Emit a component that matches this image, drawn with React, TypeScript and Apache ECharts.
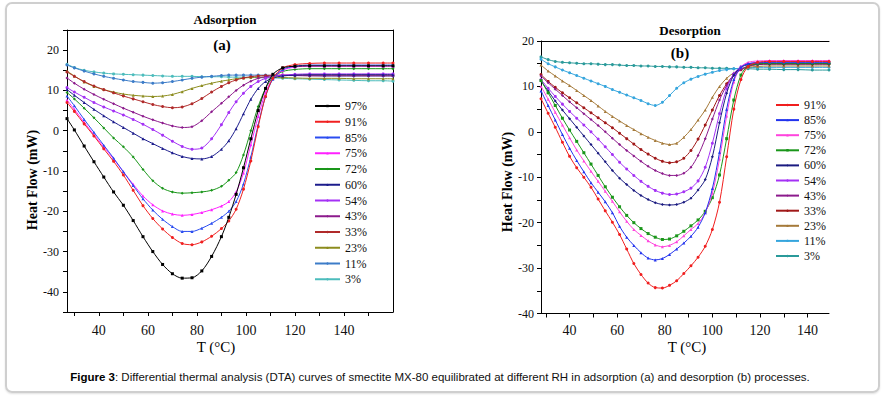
import React, { useEffect, useRef } from "react";
import * as echarts from "echarts";

// ---------- Adsorption (a) ----------
const T_ADS = [27, 30, 34, 38, 42, 46, 50, 54, 58, 62, 66, 70, 74, 78, 82, 86, 90, 93, 96, 99, 102, 105, 108, 111, 115, 120, 126, 132, 138, 144, 150, 156, 160];
const ADS_LABELS = ["97%", "91%", "85%", "75%", "72%", "60%", "54%", "43%", "33%", "23%", "11%", "3%"];
const ads97 = [3.0, 0.2, -3.8, -7.7, -11.5, -15.2, -18.5, -22.3, -26.3, -30.0, -33.2, -35.5, -36.6, -36.5, -34.8, -31.2, -26.3, -21.5, -15.8, -9.2, -2.0, 5.0, 10.5, 14.0, 15.6, 16.0, 16.1, 16.1, 16.1, 16.1, 16.1, 16.1, 16.1];
const ads91 = [7.0, 4.8, 1.7, -1.3, -4.5, -7.6, -11.0, -14.8, -18.6, -21.8, -24.4, -26.5, -28.0, -28.3, -27.6, -26.2, -24.3, -22.4, -19.5, -14.5, -7.5, 1.0, 8.5, 13.0, 15.6, 16.4, 16.7, 16.8, 16.8, 16.8, 16.8, 16.8, 16.8];
const ads85 = [8.6, 6.2, 2.8, -0.4, -3.6, -6.8, -10.2, -13.6, -16.9, -19.7, -22.0, -23.8, -25.0, -25.0, -24.2, -23.0, -21.5, -20.0, -17.6, -13.2, -6.5, 1.5, 8.5, 12.8, 15.2, 16.0, 16.3, 16.3, 16.3, 16.3, 16.3, 16.3, 16.3];
const ads75 = [7.6, 5.3, 2.1, -1.0, -4.0, -7.0, -10.2, -13.3, -16.2, -18.4, -19.9, -20.7, -21.0, -20.8, -20.3, -19.6, -18.7, -17.6, -15.2, -10.5, -3.5, 3.5, 9.5, 13.0, 15.0, 15.8, 16.0, 16.0, 16.0, 16.0, 16.0, 16.0, 16.0];
const ads72 = [9.5, 7.9, 5.6, 3.2, 0.7, -1.8, -4.0, -6.5, -9.6, -12.4, -14.3, -15.2, -15.5, -15.4, -15.2, -14.8, -13.8, -12.3, -10.4, -6.0, 0.0, 6.0, 10.5, 13.2, 14.7, 15.2, 15.4, 15.4, 15.4, 15.4, 15.4, 15.4, 15.4];
const ads60 = [10.2, 8.8, 7.0, 5.3, 3.7, 2.2, 0.8, -0.6, -2.0, -3.2, -4.4, -5.5, -6.4, -6.9, -7.0, -6.4, -4.6, -2.5, 0.5, 4.2, 7.8, 10.5, 12.2, 13.1, 13.6, 13.8, 13.9, 13.9, 13.9, 13.9, 13.9, 13.9, 13.9];
const ads54 = [10.7, 9.6, 8.3, 7.0, 5.9, 4.9, 3.9, 2.8, 1.6, 0.3, -1.1, -2.6, -3.9, -4.6, -4.3, -2.0, 1.5, 4.5, 7.2, 9.3, 11.0, 12.2, 13.0, 13.5, 13.8, 14.0, 14.1, 14.1, 14.1, 14.1, 14.1, 14.1, 14.1];
const ads43 = [13.1, 11.8, 10.3, 9.0, 7.8, 6.7, 5.6, 4.6, 3.6, 2.7, 1.9, 1.2, 0.8, 1.0, 2.5, 4.7, 6.8, 8.4, 10.0, 11.3, 12.3, 13.0, 13.4, 13.6, 13.7, 13.7, 13.6, 13.6, 13.6, 13.6, 13.6, 13.6, 13.6];
const ads33 = [14.6, 13.5, 12.2, 11.1, 10.2, 9.4, 8.6, 7.9, 7.2, 6.5, 6.0, 5.7, 5.9, 6.7, 8.0, 9.6, 11.0, 11.9, 12.6, 13.1, 13.4, 13.6, 13.7, 13.8, 13.8, 13.8, 13.8, 13.8, 13.8, 13.8, 13.8, 13.8, 13.8];
const ads23 = [14.8, 13.6, 12.1, 11.0, 10.2, 9.6, 9.1, 8.8, 8.6, 8.5, 8.6, 9.0, 9.7, 10.5, 11.2, 11.8, 12.3, 12.6, 12.9, 13.1, 13.2, 13.3, 13.3, 13.3, 13.2, 13.1, 13.0, 13.0, 13.0, 12.9, 12.9, 12.9, 12.9];
const ads11 = [16.3, 15.6, 14.8, 14.1, 13.5, 13.0, 12.6, 12.2, 12.0, 11.8, 11.9, 12.2, 12.6, 13.0, 13.3, 13.5, 13.7, 13.8, 13.8, 13.8, 13.8, 13.8, 13.8, 13.7, 13.7, 13.7, 13.7, 13.6, 13.6, 13.6, 13.6, 13.6, 13.6];
const ads3 = [16.5, 15.7, 15.0, 14.6, 14.3, 14.1, 14.0, 13.9, 13.8, 13.7, 13.6, 13.5, 13.5, 13.5, 13.4, 13.4, 13.4, 13.3, 13.3, 13.3, 13.2, 13.2, 13.1, 13.1, 13.0, 12.9, 12.8, 12.7, 12.6, 12.5, 12.4, 12.4, 12.3];
const ADS_VALUES = [ads97, ads91, ads85, ads75, ads72, ads60, ads54, ads43, ads33, ads23, ads11, ads3];

// ---------- Desorption (b) ----------
const T_DES = [28, 31, 34, 37, 40, 43, 46, 49, 52, 55, 58, 61, 64, 67, 70, 73, 76, 79, 82, 85, 88, 91, 94, 97, 100, 103, 106, 109, 112, 115, 119, 124, 130, 136, 142, 149];
const DES_LABELS = ["91%", "85%", "75%", "72%", "60%", "54%", "43%", "33%", "23%", "11%", "3%"];
const des91 = [7.3, 4.1, 1.0, -2.3, -5.4, -7.9, -10.0, -12.2, -14.8, -17.4, -19.9, -22.6, -25.8, -29.0, -31.4, -33.3, -34.3, -34.4, -33.8, -32.8, -31.2, -29.5, -27.6, -25.2, -21.5, -15.5, -5.5, 5.0, 11.5, 14.4, 15.3, 15.5, 15.5, 15.5, 15.5, 15.5];
const des85 = [9.0, 5.8, 2.6, -0.6, -3.6, -6.3, -8.8, -11.2, -13.3, -15.4, -17.8, -20.8, -23.2, -25.0, -26.6, -27.8, -28.2, -27.9, -27.0, -25.8, -24.5, -23.0, -21.0, -17.8, -12.5, -4.5, 5.0, 11.5, 14.2, 15.0, 15.2, 15.3, 15.3, 15.3, 15.3, 15.3];
const des75 = [10.0, 7.2, 4.3, 1.5, -1.3, -4.0, -6.4, -8.7, -10.9, -13.1, -15.3, -17.6, -19.7, -21.5, -22.8, -24.0, -24.9, -25.3, -25.0, -24.2, -22.9, -21.5, -20.2, -17.8, -13.5, -6.0, 3.5, 11.0, 14.3, 15.3, 15.6, 15.7, 15.7, 15.7, 15.7, 15.7];
const des72 = [11.3, 8.6, 5.8, 3.0, 0.4, -2.1, -4.6, -7.1, -9.6, -12.1, -14.4, -16.5, -18.4, -20.0, -21.3, -22.4, -23.2, -23.7, -23.6, -22.9, -21.9, -20.7, -19.4, -17.5, -14.5, -9.5, -1.5, 7.0, 12.5, 14.5, 15.0, 15.1, 15.1, 15.1, 15.1, 15.1];
const des60 = [11.2, 9.0, 6.8, 4.8, 2.9, 1.0, -0.9, -2.8, -4.7, -6.6, -8.5, -10.2, -11.6, -12.9, -14.0, -14.9, -15.6, -16.0, -16.1, -16.0, -15.5, -14.6, -12.8, -10.5, -5.5, 2.0, 8.5, 12.5, 14.2, 14.8, 15.0, 15.0, 15.0, 15.0, 15.0, 15.0];
const des54 = [11.5, 9.6, 7.8, 6.1, 4.5, 3.0, 1.5, 0.0, -1.6, -3.3, -5.0, -6.7, -8.2, -9.6, -10.9, -12.0, -12.9, -13.5, -13.8, -13.7, -13.2, -12.4, -10.8, -7.8, -2.5, 4.0, 9.5, 12.8, 14.3, 15.0, 15.3, 15.4, 15.4, 15.4, 15.4, 15.4];
const des43 = [12.3, 10.8, 9.4, 8.0, 6.6, 5.3, 4.0, 2.7, 1.4, 0.0, -1.4, -2.8, -4.1, -5.3, -6.5, -7.6, -8.5, -9.2, -9.6, -9.6, -9.1, -7.8, -5.2, -1.5, 2.8, 7.0, 10.2, 12.4, 13.7, 14.5, 14.9, 15.0, 15.0, 15.0, 15.0, 15.0];
const des33 = [12.6, 11.1, 9.8, 8.6, 7.5, 6.4, 5.3, 4.2, 3.1, 2.0, 0.9, -0.3, -1.5, -2.7, -3.9, -4.9, -5.8, -6.5, -6.8, -6.6, -5.8, -4.1, -1.6, 1.5, 4.8, 8.0, 10.6, 12.5, 13.7, 14.4, 14.8, 14.9, 14.9, 14.9, 14.9, 14.9];
const des23 = [14.7, 13.4, 12.3, 11.2, 10.2, 9.1, 8.0, 6.9, 5.7, 4.5, 3.4, 2.4, 1.4, 0.5, -0.4, -1.2, -1.9, -2.5, -2.8, -2.5, -1.2, 0.5, 2.6, 4.8, 7.6, 10.0, 11.8, 13.0, 13.8, 14.2, 14.4, 14.5, 14.5, 14.5, 14.5, 14.5];
const des11 = [16.0, 15.0, 14.3, 13.6, 13.0, 12.4, 11.8, 11.2, 10.6, 10.0, 9.3, 8.7, 8.1, 7.5, 6.9, 6.2, 5.8, 6.5, 8.0, 9.6, 10.8, 11.6, 12.2, 12.7, 13.1, 13.5, 13.7, 13.9, 14.0, 14.1, 14.2, 14.2, 14.2, 14.2, 14.2, 14.2];
const des3 = [16.5, 15.9, 15.5, 15.3, 15.2, 15.1, 15.0, 15.0, 14.9, 14.8, 14.8, 14.7, 14.6, 14.6, 14.5, 14.5, 14.4, 14.4, 14.3, 14.3, 14.2, 14.2, 14.1, 14.1, 14.0, 14.0, 14.0, 13.9, 13.9, 13.9, 13.8, 13.8, 13.7, 13.7, 13.6, 13.6];
const DES_VALUES = [des91, des85, des75, des72, des60, des54, des43, des33, des23, des11, des3];

// ---------- Ticks ----------
const ADS_X_LABELS = [40, 60, 80, 100, 120, 140];
const ADS_X_TICKS = [30, 40, 50, 60, 70, 80, 90, 100, 110, 120, 130, 140, 150];
const ADS_Y_LABELS = [-40, -30, -20, -10, 0, 10, 20];
const DES_X_LABELS = [40, 60, 80, 100, 120, 140];
const DES_X_TICKS = [30, 40, 50, 60, 70, 80, 90, 100, 110, 120, 130, 140];
const DES_Y_LABELS = [-40, -30, -20, -10, 0, 10, 20];

// ---------- Styles ----------
const ADS_COLORS = ["#000000", "#f02020", "#2a4cf0", "#ff20ff", "#1a961a", "#1c1c8c", "#a431f5", "#8c1a8c", "#b02a2a", "#8c8c1e", "#3c7cc8", "#4cbcbc"];
const ADS_SYMBOLS = ["rect", "circle", "triangle", "triangle", "diamond", "triangle", "circle", "diamond", "circle", "triangle", "circle", "circle"];
const DES_COLORS = ["#f01e1e", "#2233ee", "#ff44dd", "#1a961a", "#1a1a80", "#a431f5", "#8c1a8c", "#a01818", "#a57a3a", "#35a5dd", "#2a9a9a"];
const DES_SYMBOLS = ["circle", "triangle", "triangle", "rect", "diamond", "circle", "diamond", "circle", "triangle", "circle", "circle"];

const SERIF = "Liberation Serif";
const SANS = "Liberation Sans";

function buildSeries(prefix: string, labels: string[], xs: number[], values: number[][], colors: string[], symbols: string[], axisIndex: number) {
  return values.map((vals, i) => ({
    type: "line",
    name: prefix + labels[i],
    xAxisIndex: axisIndex,
    yAxisIndex: axisIndex,
    data: xs.map((t, j) => [t, vals[j]]),
    smooth: 0.3,
    symbol: symbols[i],
    symbolSize: 3,
    showAllSymbol: true,
    lineStyle: { width: 1, color: colors[i] },
    itemStyle: { color: colors[i] },
    emphasis: { disabled: true },
    z: 2 + (values.length - i),
  }));
}

export default function App() {
  const ref = useRef<HTMLDivElement>(null);
  useEffect(() => {
    if (!ref.current) return;
    const chart = echarts.init(ref.current, null, { renderer: "svg" });
    const axisLine = { show: true, onZero: false, lineStyle: { color: "#000", width: 1 } };
    const tickText = (size: number, margin: number, values: number[]) => ({
      customValues: values, fontFamily: SERIF, fontSize: size, color: "#111", margin,
    });
    const option: any = {
      animation: false,
      backgroundColor: "transparent",
      textStyle: { fontFamily: SERIF },
      grid: [
        { left: 67, top: 30, width: 326, height: 282 },
        { left: 541, top: 41, width: 288, height: 272.5 },
      ],
      xAxis: [
        {
          gridIndex: 0, type: "value", min: 27, max: 160,
          axisLine,
          axisTick: { show: true, inside: false, length: 4, customValues: ADS_X_TICKS, lineStyle: { color: "#000" } },
          axisLabel: tickText(14, 11, ADS_X_LABELS),
          splitLine: { show: false },
        },
        {
          gridIndex: 0, type: "value", position: "top", min: 27, max: 160,
          axisLine, axisTick: { show: false }, axisLabel: { show: false }, splitLine: { show: false },
        },
        {
          gridIndex: 1, type: "value", min: 28, max: 149,
          axisLine,
          axisTick: { show: true, inside: false, length: 4, customValues: DES_X_TICKS, lineStyle: { color: "#000" } },
          axisLabel: tickText(14, 10, DES_X_LABELS),
          splitLine: { show: false },
        },
        {
          gridIndex: 1, type: "value", position: "top", min: 28, max: 149,
          axisLine, axisTick: { show: false }, axisLabel: { show: false }, splitLine: { show: false },
        },
      ],
      yAxis: [
        {
          gridIndex: 0, type: "value", min: -45, max: 25, interval: 5,
          axisLine,
          axisTick: { show: true, length: 4, lineStyle: { color: "#000" } },
          axisLabel: tickText(12, 8, ADS_Y_LABELS),
          splitLine: { show: false },
        },
        {
          gridIndex: 0, type: "value", position: "right", min: -45, max: 25,
          axisLine, axisTick: { show: false }, axisLabel: { show: false }, splitLine: { show: false },
        },
        {
          gridIndex: 1, type: "value", min: -40, max: 20, interval: 5,
          axisLine,
          axisTick: { show: true, length: 4, lineStyle: { color: "#000" } },
          axisLabel: tickText(12, 7, DES_Y_LABELS),
          splitLine: { show: false },
        },
      ],
      legend: [
        {
          data: ADS_LABELS.map((l) => "a " + l),
          orient: "vertical", left: 309, top: 95,
          itemWidth: 25, itemHeight: 3, itemGap: 3.75,
          formatter: (n: string) => n.slice(2),
          textStyle: { fontFamily: SERIF, fontSize: 12, lineHeight: 12, color: "#111" },
          selectedMode: false,
        },
        {
          data: DES_LABELS.map((l) => "d " + l),
          orient: "vertical", left: 770, top: 94,
          itemWidth: 23, itemHeight: 3, itemGap: 3.1,
          formatter: (n: string) => n.slice(2),
          textStyle: { fontFamily: SERIF, fontSize: 12, lineHeight: 12, color: "#111" },
          selectedMode: false,
        },
      ],
      graphic: [
        { type: "text", x: 225, y: 19, style: { text: "Adsorption", font: `bold 13px ${SERIF}`, fill: "#000", textAlign: "center", textVerticalAlign: "middle" } },
        { type: "text", x: 222, y: 45, style: { text: "(a)", font: `bold 15px ${SERIF}`, fill: "#000", textAlign: "center", textVerticalAlign: "middle" } },
        { type: "text", x: 690, y: 30, style: { text: "Desorption", font: `bold 13px ${SERIF}`, fill: "#000", textAlign: "center", textVerticalAlign: "middle" } },
        { type: "text", x: 680, y: 52.5, style: { text: "(b)", font: `bold 15px ${SERIF}`, fill: "#000", textAlign: "center", textVerticalAlign: "middle" } },
        { type: "text", x: 32, y: 180, rotation: Math.PI / 2, style: { text: "Heat Flow (mW)", font: `bold 14px ${SERIF}`, fill: "#000", textAlign: "center", textVerticalAlign: "middle" } },
        { type: "text", x: 507, y: 182, rotation: Math.PI / 2, style: { text: "Heat Flow (mW)", font: `bold 14px ${SERIF}`, fill: "#000", textAlign: "center", textVerticalAlign: "middle" } },
        { type: "text", x: 216, y: 347, style: { text: "T (°C)", font: `15px ${SERIF}`, fill: "#000", textAlign: "center", textVerticalAlign: "middle" } },
        { type: "text", x: 687, y: 347, style: { text: "T (°C)", font: `15px ${SERIF}`, fill: "#000", textAlign: "center", textVerticalAlign: "middle" } },
        {
          type: "text", x: 440, y: 377,
          style: {
            text: "{b|Figure 3}: Differential thermal analysis (DTA) curves of smectite MX-80 equilibrated at different RH in adsorption (a) and desorption (b) processes.",
            font: `11.5px ${SANS}`, fill: "#111", textAlign: "center", textVerticalAlign: "middle",
            rich: { b: { fontWeight: "bold", fontFamily: SANS, fontSize: 11.5, fill: "#000" } },
          },
        },
      ],
      series: [
        ...buildSeries("a ", ADS_LABELS, T_ADS, ADS_VALUES, ADS_COLORS, ADS_SYMBOLS, 0),
        ...buildSeries("d ", DES_LABELS, T_DES, DES_VALUES, DES_COLORS, DES_SYMBOLS, 2),
      ],
    };
    chart.setOption(option);
    return () => chart.dispose();
  }, []);

  return (
    <div style={{ position: "fixed", left: 0, top: 0, width: 884, height: 397, background: "#fff" }}>
      <div
        style={{
          position: "absolute", left: 5, top: 2, width: 875, height: 391,
          border: "2px solid #cfcfcf", borderRadius: 7, boxSizing: "border-box",
          boxShadow: "0 1px 2px rgba(0,0,0,0.12)",
        }}
      />
      <div ref={ref} style={{ position: "absolute", left: 0, top: 0, width: 884, height: 397 }} />
    </div>
  );
}
